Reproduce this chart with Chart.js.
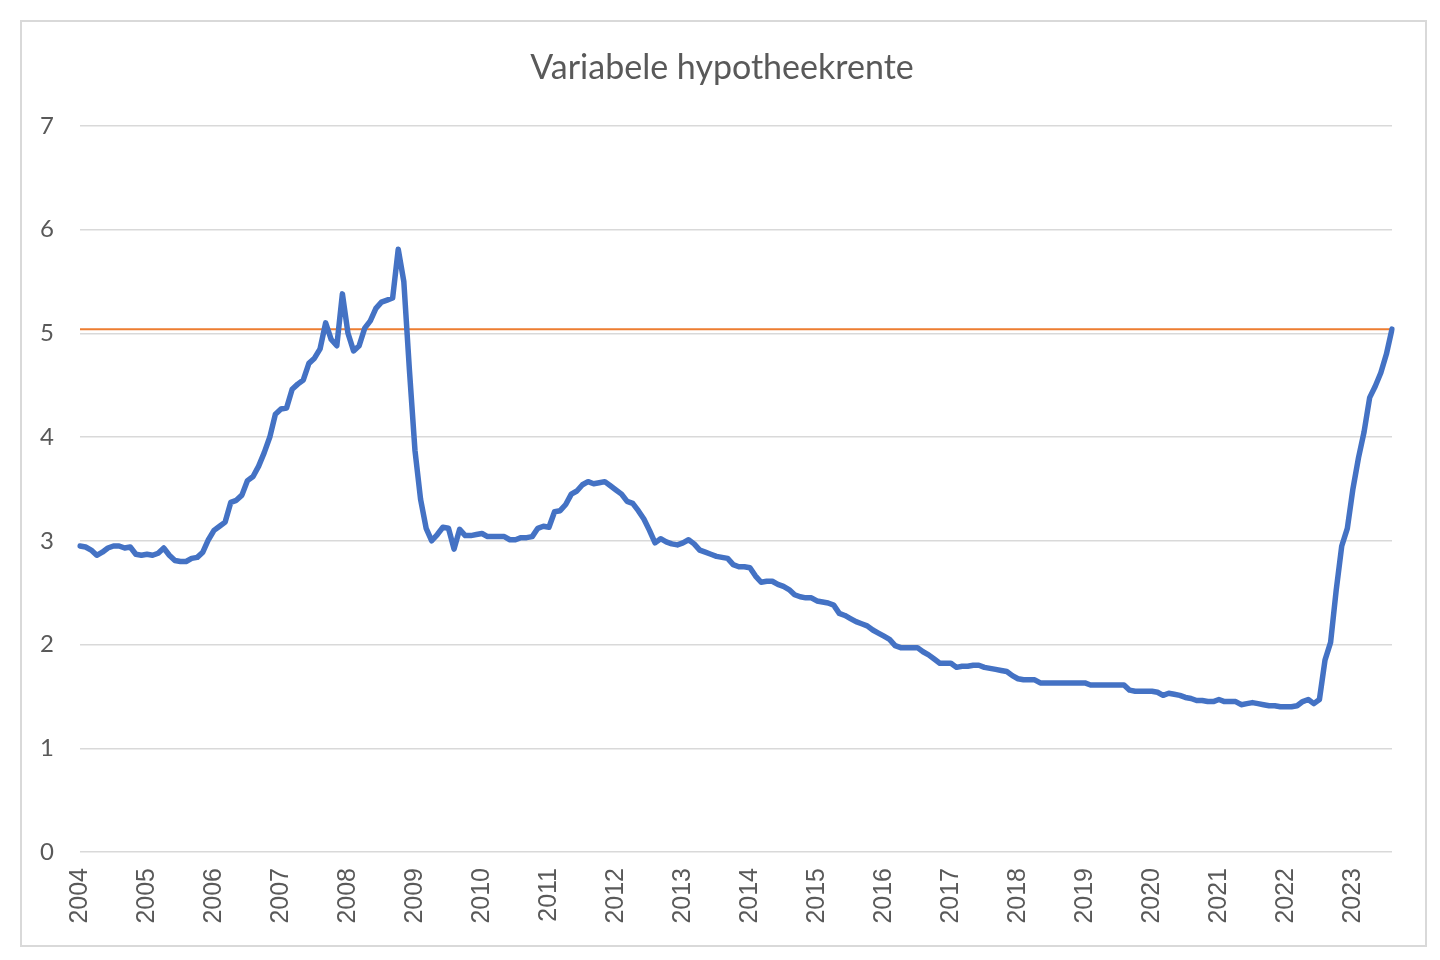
<!DOCTYPE html>
<html>
<head>
<meta charset="utf-8">
<title>Variabele hypotheekrente</title>
<script src="https://cdn.jsdelivr.net/npm/chart.js@4.4.1/dist/chart.umd.min.js"></script>
<style>
  html, body { margin: 0; padding: 0; background: #fff; }
  #frame {
    position: absolute; left: 20px; top: 20px;
    width: 1403px; height: 923px;
    border: 2px solid #d9d9d9;
  }
  #wrap { position: absolute; left: 0; top: 0; width: 1440px; height: 960px; }
</style>
</head>
<body>
<div id="frame"></div>
<div id="wrap"><canvas id="rateChart"></canvas></div>
<script>
// ---------- Data (monthly, Jan 2004 - Aug 2023) ----------
const lastMonthIndex = 7; // Aug 2023
const yearLabels = ["2004", "2005", "2006", "2007", "2008", "2009", "2010",
  "2011", "2012", "2013", "2014", "2015", "2016", "2017", "2018", "2019",
  "2020", "2021", "2022", "2023"];

const rates = [
  2.95, 2.94, 2.91, 2.86, 2.89, 2.93, 2.95, 2.95, 2.93, 2.94, 2.87, 2.86, // 2004
  2.87, 2.86, 2.88, 2.93, 2.86, 2.81, 2.80, 2.80, 2.83, 2.84, 2.89, 3.01, // 2005
  3.10, 3.14, 3.18, 3.37, 3.39, 3.44, 3.58, 3.62, 3.72, 3.85, 4.00, 4.22, // 2006
  4.27, 4.28, 4.46, 4.51, 4.55, 4.71, 4.76, 4.85, 5.10, 4.94, 4.88, 5.38, // 2007
  5.00, 4.83, 4.88, 5.05, 5.12, 5.24, 5.30, 5.32, 5.34, 5.81, 5.50, 4.65, // 2008
  3.87, 3.40, 3.12, 3.00, 3.06, 3.13, 3.12, 2.92, 3.11, 3.05, 3.05, 3.06, // 2009
  3.07, 3.04, 3.04, 3.04, 3.04, 3.01, 3.01, 3.03, 3.03, 3.04, 3.12, 3.14, // 2010
  3.13, 3.28, 3.29, 3.35, 3.45, 3.48, 3.54, 3.57, 3.55, 3.56, 3.57, 3.53, // 2011
  3.49, 3.45, 3.38, 3.36, 3.29, 3.21, 3.10, 2.98, 3.02, 2.99, 2.97, 2.96, // 2012
  2.98, 3.01, 2.97, 2.91, 2.89, 2.87, 2.85, 2.84, 2.83, 2.77, 2.75, 2.75, // 2013
  2.74, 2.66, 2.60, 2.61, 2.61, 2.58, 2.56, 2.53, 2.48, 2.46, 2.45, 2.45, // 2014
  2.42, 2.41, 2.40, 2.38, 2.30, 2.28, 2.25, 2.22, 2.20, 2.18, 2.14, 2.11, // 2015
  2.08, 2.05, 1.99, 1.97, 1.97, 1.97, 1.97, 1.93, 1.90, 1.86, 1.82, 1.82, // 2016
  1.82, 1.78, 1.79, 1.79, 1.80, 1.80, 1.78, 1.77, 1.76, 1.75, 1.74, 1.70, // 2017
  1.67, 1.66, 1.66, 1.66, 1.63, 1.63, 1.63, 1.63, 1.63, 1.63, 1.63, 1.63, // 2018
  1.63, 1.61, 1.61, 1.61, 1.61, 1.61, 1.61, 1.61, 1.56, 1.55, 1.55, 1.55, // 2019
  1.55, 1.54, 1.51, 1.53, 1.52, 1.51, 1.49, 1.48, 1.46, 1.46, 1.45, 1.45, // 2020
  1.47, 1.45, 1.45, 1.45, 1.42, 1.43, 1.44, 1.43, 1.42, 1.41, 1.41, 1.40, // 2021
  1.40, 1.40, 1.41, 1.45, 1.47, 1.43, 1.47, 1.85, 2.02, 2.52, 2.95, 3.12, // 2022
  3.50, 3.80, 4.05, 4.38, 4.49, 4.62, 4.80, 5.04                          // 2023
];

const currentRate = 5.04; // horizontal reference line
const yTicks = [0, 1, 2, 3, 4, 5, 6, 7];

// month labels built from the year list
const labels = [];
yearLabels.forEach((y, i) => {
  const n = i === yearLabels.length - 1 ? lastMonthIndex + 1 : 12;
  for (let m = 1; m <= n; m++) labels.push(y + "-" + String(m).padStart(2, "0"));
});
const refLine = labels.map(() => currentRate);

// ---------- Chart ----------
const ctx = document.getElementById("rateChart").getContext("2d");
new Chart(ctx, {
  type: "line",
  data: {
    labels,
    datasets: [
      {
        label: "Variabele hypotheekrente",
        data: rates,
        borderColor: "#4472C4",
        borderWidth: 5.5,
        borderJoinStyle: "round",
        borderCapStyle: "round",
        tension: 0,
        pointRadius: 0,
      },
      {
        label: "Huidig",
        data: refLine,
        borderColor: "#ED7D31",
        borderWidth: 2,
        tension: 0,
        pointRadius: 0,
      },
    ],
  },
  options: {
    responsive: true,
    maintainAspectRatio: false,
    animation: false,
    layout: { padding: { left: 4, right: 0, top: 0, bottom: 0 } },
    plugins: {
      legend: { display: false },
      tooltip: { enabled: false },
      title: {
        display: true,
        text: "Variabele hypotheekrente",
        color: "#595959",
        font: { family: "Lato", size: 34, weight: "normal" },
        padding: { top: 48, bottom: 37 },
      },
    },
    scales: {
      x: {
        offset: false,
        grid: { display: false, drawTicks: false },
        border: { display: false },
        ticks: {
          autoSkip: false,
          maxRotation: 90,
          minRotation: 90,
          padding: 16,
          color: "#595959",
          font: { family: "Liberation Sans", size: 25 },
          callback: function (value) {
            const l = this.getLabelForValue(value);
            return l.endsWith("-01") ? l.slice(0, 4) : null;
          },
        },
        afterFit: (scale) => { scale.height = 108; },
      },
      y: {
        min: 0,
        max: 7,
        afterBuildTicks: (scale) => { scale.ticks = yTicks.map((v) => ({ value: v })); },
        grid: { color: "#d9d9d9", lineWidth: 1.5, drawTicks: false },
        border: { display: false },
        ticks: {
          padding: 26,
          color: "#595959",
          font: { family: "Lato", size: 24 },
        },
        afterFit: (scale) => { scale.width = 76; },
      },
      // empty right-hand spacer so the plot stops where the reference does
      spacer: {
        position: "right",
        display: true,
        grid: { display: false, drawTicks: false },
        border: { display: false },
        ticks: { display: false },
        afterFit: (scale) => { scale.width = 48; },
      },
    },
  },
});
</script>
</body>
</html>
